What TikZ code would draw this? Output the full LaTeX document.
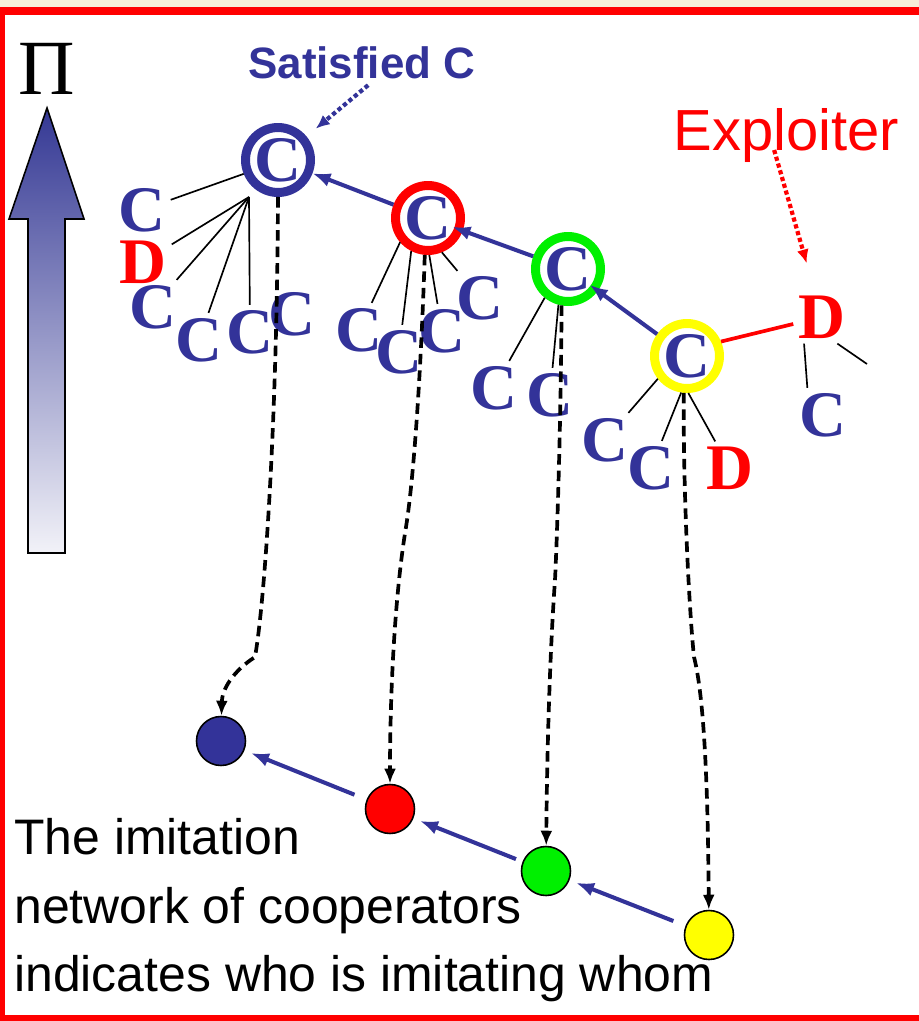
\documentclass[tikz,border=0pt]{standalone}
\usepackage{fontspec}
\setmainfont{Liberation Serif}
\setsansfont{Liberation Sans}
\usetikzlibrary{arrows.meta}
\definecolor{cblue}{RGB}{51,51,153}
\definecolor{cred}{RGB}{255,0,0}
\definecolor{cgreen}{RGB}{0,240,0}
\definecolor{cyellow}{RGB}{255,255,0}
\definecolor{beige}{RGB}{247,238,216}
\definecolor{arrtop}{RGB}{52,56,148}
\definecolor{arrbot}{RGB}{242,242,248}

\begin{document}
\begin{tikzpicture}[x=0.02cm, y=-0.02cm, >={Latex[length=0.3cm,width=0.24cm]},
  ring/.style={circle, draw=#1, line width=0.18cm, minimum size=1.30cm, inner sep=0pt, text=cblue, font=\fontsize{37}{37}\selectfont\bfseries},
  lc/.style={text=cblue, inner sep=0pt, outer sep=3pt, font=\fontsize{37}{37}\selectfont\bfseries},
  ld/.style={lc, text=cred},
  dot/.style={circle, draw, fill=#1, line width=0.9pt, minimum size=0.98cm, inner sep=0pt},
  twig/.style={line width=0.95pt},
  imit/.style={cblue, line width=2.3pt, -{Latex[length=0.36cm,width=0.28cm]}},
  copyline/.style={line width=2.1pt, dash pattern=on 6pt off 3.4pt, ->},
  hint/.style={line width=2.4pt, dash pattern=on 2.4pt off 1.6pt, -{Latex[length=0.28cm,width=0.24cm]}}]

\useasboundingbox (0,0) rectangle (919,1021);
\fill[white] (0,0) rectangle (919,1021);
\fill[beige] (0,0) rectangle (919,7);
\fill[cred] (0,7) rectangle (919,15);
\fill[cred] (0,7) rectangle (5,1021);
\fill[cred] (0,1015) rectangle (919,1021);

% payoff arrow
\shade[top color=arrtop, bottom color=arrbot] (28,553) -- (28,219) -- (9,219) -- (47,108) -- (84,219) -- (65,219) -- (65,553) -- cycle;
\draw[line width=0.9pt] (28,553) -- (28,219) -- (9,219) -- (47,108) -- (84,219) -- (65,219) -- (65,553) -- cycle;
\node[font=\fontsize{44.5}{44.5}\selectfont] (pi) at (47,69) {Π};

\node[anchor=base west, inner sep=0pt, text=cblue, font=\sffamily\bfseries\fontsize{25}{25}\selectfont] (satlab) at (248,78) {Satisfied C};
\node[anchor=base west, inner sep=0pt, text=cred, font=\sffamily\fontsize{33}{33}\selectfont] (exploit) at (673,150) {Exploiter};

\node[lc] (sa1) at (142,210) {C};
\node[ld] (sa2) at (143,262) {D};
\node[lc] (sa3) at (153,307) {C};
\node[lc] (sa4) at (199,340) {C};
\node[lc] (sa5) at (250,332) {C};
\node[lc] (sa6) at (292,314) {C};

\node[lc] (rb1) at (359,330) {C};
\node[lc] (rb2) at (399,352) {C};
\node[lc] (rb3) at (442,331) {C};
\node[lc] (rb4) at (480,298) {C};

\node[lc] (gc1) at (494,388) {C};
\node[lc] (gc2) at (550,395) {C};

\node[lc] (yc1) at (605,440) {C};
\node[lc] (yc2) at (651,468) {C};
\node[ld] (yc3) at (730,468) {D};

\node[ld] (exD) at (822,317) {D};
\node[lc] (exC) at (823,415) {C};
\coordinate (exE) at (867,364);

\node[ring=cblue] (sat) at (278,160) {C};
\node[ring=cred] (rring) at (428,218) {C};
\node[ring=cgreen] (gring) at (568,269) {C};
\node[ring=cyellow] (yring) at (687,356) {C};

\coordinate (hub) at (249,197);
\draw[twig] (sat.202) -- (sa1);
\foreach \c in {sa2,sa3,sa4,sa5}
  \draw[twig] (hub) -- (\c);
\draw[twig] (rring.221) -- (rb1);
\draw[twig] (rring.243) -- (rb2);
\draw[twig] (rring.272) -- (rb3);
\draw[twig] (rring.292) -- (rb4);
\draw[twig] (gring.231) -- (gc1);
\draw[twig] (gring.255) -- (gc2);
\draw[twig] (yring.218) -- (yc1);
\draw[twig] (yring.261) -- (yc2);
\draw[twig] (yring.272) -- (yc3);
\draw[twig] (exD.236) -- (exC.120);
\draw[twig] (exD.300) -- (exE);

\draw[imit] (rring) -- (sat);
\draw[imit, shorten >=-0.22cm] (gring) -- (rring);
\draw[imit, shorten >=-0.2cm] (yring) -- (gring);
\draw[cred, line width=2.1pt] (yring.23) -- (exD);

\draw[hint, cblue, shorten <=0.2cm, shorten >=0.24cm] ([xshift=0.28cm]satlab.south) -- (sat);
\draw[hint, cred, shorten >=0.56cm] ([xshift=-0.24cm]exploit.base) -- (exD);

\node[dot=cblue] (bdot) at (221,741) {};
\node[dot=cred] (rdot) at (390,809) {};
\node[dot=cgreen] (gdot) at (546,871) {};
\node[dot=cyellow] (ydot) at (709,935) {};

\draw[imit, shorten <=0.26cm, shorten >=0.14cm] (rdot) -- (bdot);
\draw[imit, shorten <=0.14cm, shorten >=0.14cm] (gdot) -- (rdot);
\draw[imit, shorten <=0.26cm, shorten >=0.14cm] (ydot) -- (gdot);

\draw[copyline] (sat.south) .. controls (277,420) and (265,600) .. (255,657) .. controls (232,672) and (222,690) .. (bdot);
\draw[copyline] (rring.265) .. controls (420,400) and (412,490) .. (406,527) .. controls (394,600) and (390,700) .. (rdot);
\draw[copyline] (gring.260) .. controls (561,420) and (557,540) .. (555,580) .. controls (550,650) and (547,750) .. (gdot);
\draw[copyline] (yring.265) .. controls (683,500) and (690,620) .. (694,657) .. controls (705,700) and (708,800) .. (ydot);

\node[anchor=north west, align=left, inner sep=0pt, font=\sffamily\fontsize{28.4}{39}\selectfont] (caption) at (14,818) {The imitation\\network of cooperators\\indicates who is imitating whom};

\end{tikzpicture}
\end{document}
